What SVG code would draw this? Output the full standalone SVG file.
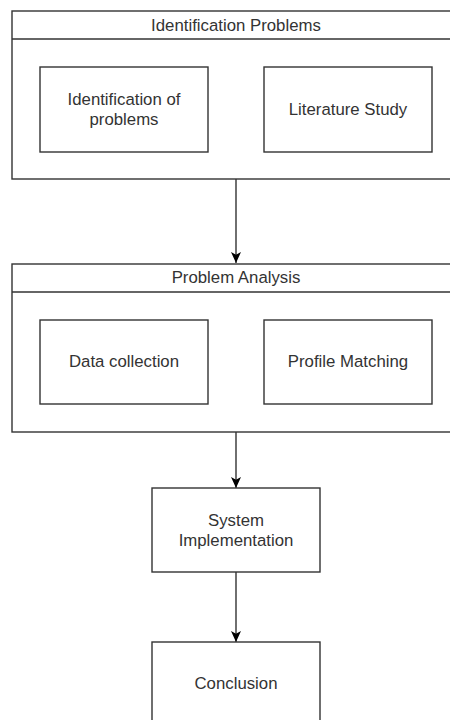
<svg xmlns="http://www.w3.org/2000/svg" width="450" height="720" viewBox="0 0 450 720">
<style>
.box{fill:#fff;stroke:#333;stroke-width:1.4}
.ln{fill:none;stroke:#333;stroke-width:1.4}
text{font-family:"Liberation Sans",Arial,sans-serif;font-size:16.8px;fill:#333;text-anchor:middle;dominant-baseline:central}
</style>
<defs>
<marker id="ah" viewBox="0 0 11 11" refX="11" refY="5.5" markerWidth="11" markerHeight="11" markerUnits="userSpaceOnUse" orient="auto">
<path d="M0,0.5 L11,5.5 L0,10.5 L2.8,5.5 Z" fill="#000"/>
</marker>
</defs>
<rect width="450" height="720" fill="#fff"/>
<g id="edges">
<line class="ln" x1="236" y1="179" x2="236" y2="263" marker-end="url(#ah)"/>
<line class="ln" x1="236" y1="432" x2="236" y2="488" marker-end="url(#ah)"/>
<line class="ln" x1="236" y1="572" x2="236" y2="642" marker-end="url(#ah)"/>
</g>
<g id="identification-problems">
<rect class="box" x="12" y="11" width="448" height="168"/>
<line class="ln" x1="12" y1="39" x2="460" y2="39"/>
<text x="236" y="25">Identification Problems</text>
</g>
<g id="identification-of-problems">
<rect class="box" x="40" y="67" width="168" height="85"/>
<text x="124" y="99">Identification of</text>
<text x="124" y="119">problems</text>
</g>
<g id="literature-study">
<rect class="box" x="264" y="67" width="168" height="85"/>
<text x="348" y="109">Literature Study</text>
</g>
<g id="problem-analysis">
<rect class="box" x="12" y="264" width="448" height="168"/>
<line class="ln" x1="12" y1="292" x2="460" y2="292"/>
<text x="236" y="277">Problem Analysis</text>
</g>
<g id="data-collection">
<rect class="box" x="40" y="320" width="168" height="84"/>
<text x="124" y="361">Data collection</text>
</g>
<g id="profile-matching">
<rect class="box" x="264" y="320" width="168" height="84"/>
<text x="348" y="361">Profile Matching</text>
</g>
<g id="system-implementation">
<rect class="box" x="152" y="488" width="168" height="84"/>
<text x="236" y="520">System</text>
<text x="236" y="540">Implementation</text>
</g>
<g id="conclusion">
<rect class="box" x="152" y="642" width="168" height="84"/>
<text x="236" y="683">Conclusion</text>
</g>
</svg>
